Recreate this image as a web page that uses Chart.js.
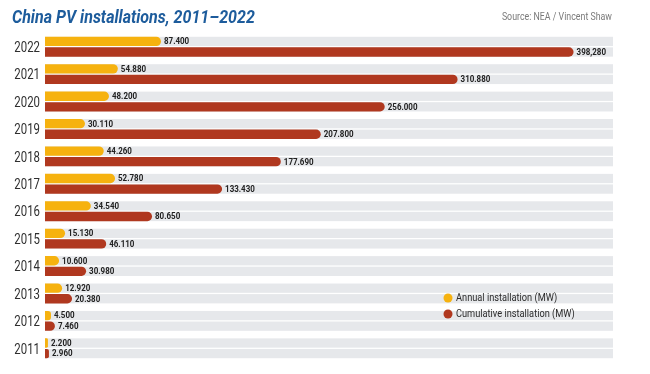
<!DOCTYPE html>
<html>
<head>
<meta charset="utf-8">
<script src="https://cdn.jsdelivr.net/npm/chart.js@4/dist/chart.umd.min.js"></script>
<style>
  html, body { margin: 0; padding: 0; background: #fff; }
  #wrap { position: relative; width: 650px; height: 374px; }
  canvas { display: block; }
</style>
</head>
<body>
<div id="wrap"><canvas id="c" width="650" height="374"></canvas></div>
<script>
// ---- data ----
const years = ['2022','2021','2020','2019','2018','2017','2016','2015','2014','2013','2012','2011'];
const annualMW = [87400, 54880, 48200, 30110, 44260, 52780, 34540, 15130, 10600, 12920, 4500, 2200];
const cumulativeMW = [398280, 310880, 256000, 207800, 177690, 133430, 80650, 46110, 30980, 20380, 7460, 2960];
const annualLabels = ['87.400','54.880','48.200','30.110','44.260','52.780','34.540','15.130','10.600','12.920','4.500','2.200'];
const cumulativeLabels = ['398,280','310.880','256.000','207.800','177.690','133.430','80.650','46.110','30.980','20.380','7.460','2.960'];
const seriesNames = ['Annual installation (MW)', 'Cumulative installation (MW)'];
const titleText = 'China PV installations, 2011–2022';
const sourceText = 'Source: NEA / Vincent Shaw';

const YELLOW = '#F6B20F';
const RED = '#B0381F';
const TRACK = '#E6E8EB';
const FONT = 'Roboto, "Liberation Sans", sans-serif';

// draw horizontally condensed text (the original uses a condensed typeface)
function condensedText(ctx, text, x, y, font, color, align, sx, baseline) {
  ctx.save();
  ctx.font = font;
  ctx.fillStyle = color;
  ctx.textAlign = align;
  ctx.textBaseline = baseline || 'middle';
  ctx.translate(x, y);
  ctx.scale(sx, 1);
  ctx.fillText(text, 0, 0);
  ctx.restore();
}

const trackPlugin = {
  id: 'tracks',
  beforeDatasetsDraw(chart) {
    const ctx = chart.ctx, area = chart.chartArea;
    ctx.save();
    ctx.fillStyle = TRACK;
    chart.data.datasets.forEach((ds, di) => {
      const meta = chart.getDatasetMeta(di);
      meta.data.forEach(bar => {
        const h = bar.height;
        ctx.fillRect(area.left, bar.y - h / 2, area.right - area.left, h);
      });
    });
    ctx.restore();
  }
};

const labelPlugin = {
  id: 'valueLabels',
  afterDatasetsDraw(chart) {
    const ctx = chart.ctx;
    chart.data.datasets.forEach((ds, di) => {
      const meta = chart.getDatasetMeta(di);
      meta.data.forEach((bar, i) => {
        condensedText(ctx, ds.valueLabels[i], bar.x + 3, bar.y + 0.5, 'bold 9.5px ' + FONT, '#222', 'left', 0.84);
      });
    });
    // year labels on the category axis
    const ys = chart.scales.y, area = chart.chartArea;
    chart.data.labels.forEach((lab, i) => {
      condensedText(ctx, lab, area.left - 5, ys.getPixelForValue(i) + 1.5, '15px ' + FONT, '#2e2e2e', 'right', 0.76);
    });
  }
};

const decorPlugin = {
  id: 'decor',
  afterDraw(chart) {
    const ctx = chart.ctx, area = chart.chartArea;
    condensedText(ctx, titleText, 12, 23, 'italic bold 18px ' + FONT, '#1D5C9C', 'left', 0.89, 'alphabetic');
    condensedText(ctx, sourceText, area.right - 1, 17, '10.5px ' + FONT, '#7a7a7a', 'right', 0.84);
    chart.data.datasets.forEach((ds, di) => {
      const cy = 298 + di * 16;
      ctx.save();
      ctx.fillStyle = ds.backgroundColor;
      ctx.beginPath();
      ctx.arc(448, cy, 4.5, 0, Math.PI * 2);
      ctx.fill();
      ctx.restore();
      condensedText(ctx, ds.label, 456, cy + 0.5, '11px ' + FONT, '#2b2b2b', 'left', 0.84);
    });
  }
};

new Chart(document.getElementById('c'), {
  type: 'bar',
  data: {
    labels: years,
    datasets: [
      { label: seriesNames[0], data: annualMW, valueLabels: annualLabels, backgroundColor: YELLOW,
        borderRadius: {topLeft: 0, bottomLeft: 0, topRight: 5, bottomRight: 5}, borderSkipped: false,
        categoryPercentage: 0.77, barPercentage: 0.88 },
      { label: seriesNames[1], data: cumulativeMW, valueLabels: cumulativeLabels, backgroundColor: RED,
        borderRadius: {topLeft: 0, bottomLeft: 0, topRight: 5, bottomRight: 5}, borderSkipped: false,
        categoryPercentage: 0.77, barPercentage: 0.88 }
    ]
  },
  options: {
    indexAxis: 'y',
    responsive: false,
    animation: false,
    layout: { padding: { left: 10, right: 37, top: 33, bottom: 12 } },
    plugins: { legend: { display: false }, tooltip: { enabled: false }, title: { display: false } },
    scales: {
      x: { display: false, min: 0, max: 428000 },
      y: {
        grid: { display: false, drawTicks: false },
        border: { display: false },
        ticks: { display: false },
        afterFit(s) { s.width = 35; }
      }
    }
  },
  plugins: [trackPlugin, labelPlugin, decorPlugin]
});
</script>
</body>
</html>
